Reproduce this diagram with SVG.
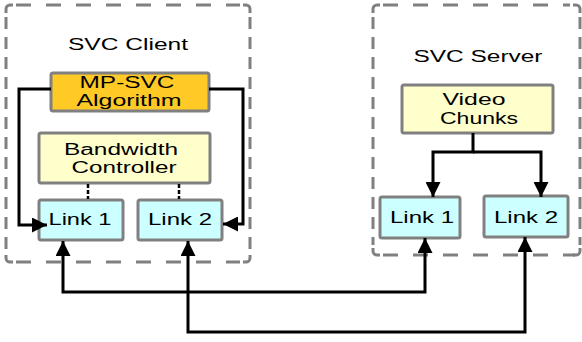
<svg xmlns="http://www.w3.org/2000/svg" width="582" height="342" viewBox="0 0 582 342">
<style>
.h{fill:none;stroke:#808080;stroke-width:3;stroke-dasharray:15 15}
.v{fill:none;stroke:#808080;stroke-width:3;stroke-dasharray:12 8}
.cn{fill:none;stroke:#808080;stroke-width:3}
.box{stroke:#808080;stroke-width:3}
.gold{fill:#FFC926}
.yel{fill:#FFFFCC}
.cyan{fill:#CCFFFF}
text{font-family:"Liberation Sans",Arial,sans-serif;font-size:16px;fill:#000;text-anchor:middle}
.conn{fill:none;stroke:#000;stroke-width:3}
.dot{fill:none;stroke:#000;stroke-width:2.5;stroke-dasharray:4 2}
</style>
<defs>
<marker id="ah" markerUnits="userSpaceOnUse" markerWidth="16" markerHeight="15" refX="15" refY="7.5" orient="auto-start-reverse">
<path d="M0,0 L15,7.5 L0,15 z" fill="#000"/>
</marker>
</defs>
<g id="client-group">
<path class="h" d="M16,5 H240 M16,262 H240"/>
<path class="v" d="M6,17 V252 M250,17 V252"/>
<path class="cn" d="M6,13 V9 A4,4 0 0 1 10,5 H13 M243,5 H246 A4,4 0 0 1 250,9 V13 M250,255 V258 A4,4 0 0 1 246,262 H243 M13,262 H10 A4,4 0 0 1 6,258 V255"/>
<text x="128" y="50" textLength="120" lengthAdjust="spacingAndGlyphs">SVC Client</text>
</g>
<g id="server-group">
<path class="h" d="M383,5 H570 M383,255 H575"/>
<path class="v" d="M373,17 V245 M580,17 V245"/>
<path class="cn" d="M373,13 V9 A4,4 0 0 1 377,5 H380 M573,5 H576 A4,4 0 0 1 580,9 V13 M580,248 V251 A4,4 0 0 1 576,255 H573 M380,255 H377 A4,4 0 0 1 373,251 V248"/>
<text x="478" y="62" textLength="129" lengthAdjust="spacingAndGlyphs">SVC Server</text>
</g>
<g id="mpsvc">
<rect class="box gold" x="51" y="73" width="158" height="38" rx="2"/>
<text x="127" y="88" textLength="95" lengthAdjust="spacingAndGlyphs">MP-SVC</text>
<text x="129" y="106" textLength="105" lengthAdjust="spacingAndGlyphs">Algorithm</text>
</g>
<g id="bandwidth">
<rect class="box yel" x="39" y="133" width="171" height="50" rx="2"/>
<text x="121" y="155" textLength="114" lengthAdjust="spacingAndGlyphs">Bandwidth</text>
<text x="124" y="173" textLength="105" lengthAdjust="spacingAndGlyphs">Controller</text>
</g>
<g id="c-link1">
<rect class="box cyan" x="39" y="200" width="84" height="40" rx="2"/>
<text x="80" y="225" textLength="63" lengthAdjust="spacingAndGlyphs">Link 1</text>
</g>
<g id="c-link2">
<rect class="box cyan" x="138" y="200" width="84" height="40" rx="2"/>
<text x="180" y="225" textLength="64" lengthAdjust="spacingAndGlyphs">Link 2</text>
</g>
<g id="video">
<rect class="box yel" x="402" y="85" width="151" height="48" rx="2"/>
<text x="474" y="105" textLength="63" lengthAdjust="spacingAndGlyphs">Video</text>
<text x="479" y="124" textLength="78" lengthAdjust="spacingAndGlyphs">Chunks</text>
</g>
<g id="s-link1">
<rect class="box cyan" x="380" y="197" width="80" height="41" rx="2"/>
<text x="422" y="223" textLength="64" lengthAdjust="spacingAndGlyphs">Link 1</text>
</g>
<g id="s-link2">
<rect class="box cyan" x="484" y="196" width="84" height="41" rx="2"/>
<text x="526" y="223" textLength="64" lengthAdjust="spacingAndGlyphs">Link 2</text>
</g>
<g id="connectors">
<path class="dot" d="M88,184 V199"/>
<path class="dot" d="M179,184 V199"/>
<path class="conn" d="M51,89 H19 V225 H47" marker-end="url(#ah)"/>
<path class="conn" d="M209,89 H243 V224 H223" marker-end="url(#ah)"/>
<path class="conn" d="M473,133 V152 H433 V197" marker-end="url(#ah)"/>
<path class="conn" d="M473,152 H541 V197" marker-end="url(#ah)"/>
<path class="conn" d="M63,241 V292 H425 V238" marker-start="url(#ah)" marker-end="url(#ah)"/>
<path class="conn" d="M188,241 V332 H525 V237" marker-start="url(#ah)" marker-end="url(#ah)"/>
</g>
</svg>
